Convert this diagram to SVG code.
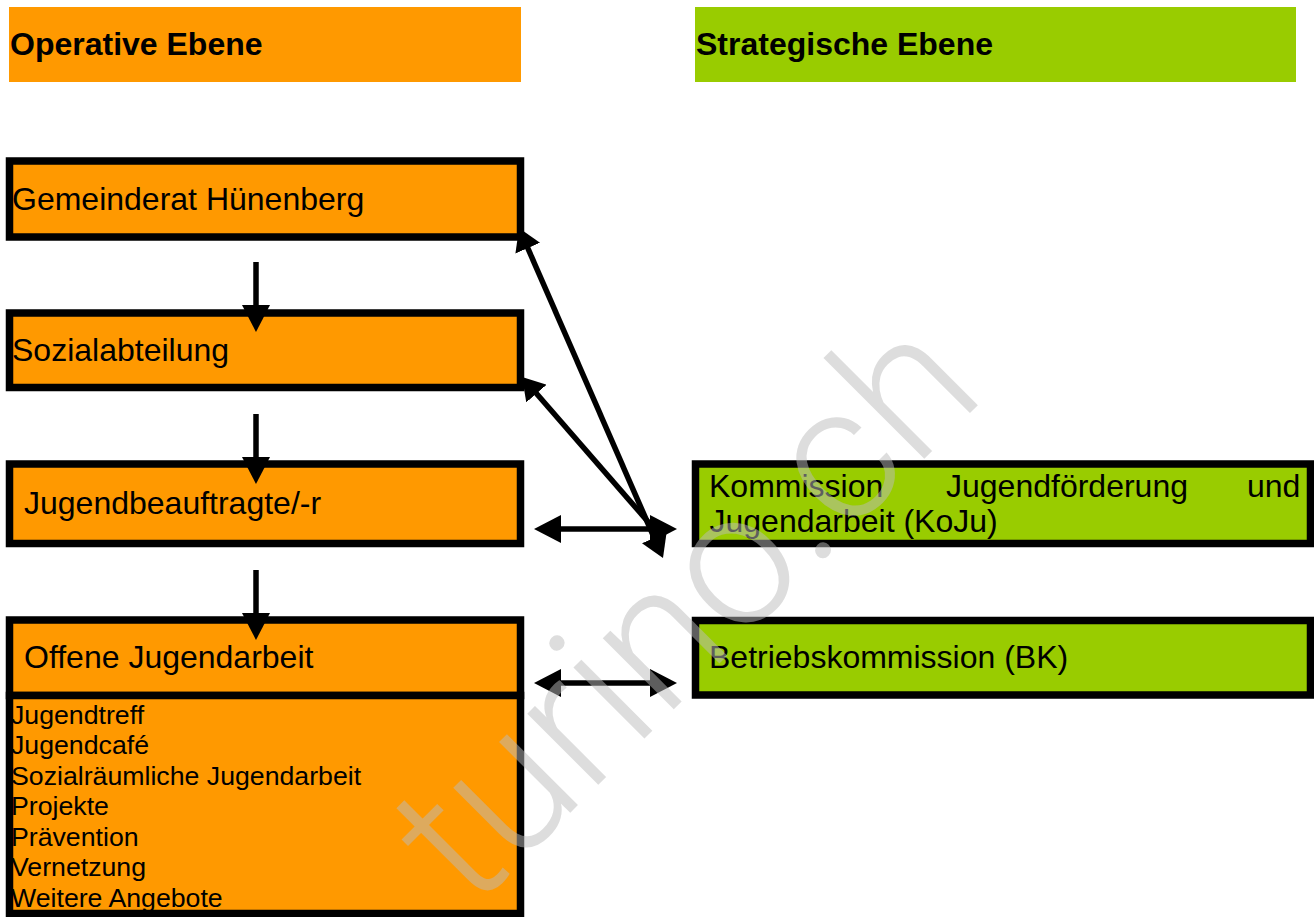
<svg xmlns="http://www.w3.org/2000/svg" width="1314" height="917" viewBox="0 0 1314 917">
<style>
.or{fill:#FF9900}
.gr{fill:#99CC00}
.bd{fill:none;stroke:#000;stroke-width:7.5}
.t{font-family:"Liberation Sans",Arial,sans-serif;font-size:32px;fill:#000}
.h{font-family:"Liberation Sans",Arial,sans-serif;font-size:32px;font-weight:bold;fill:#000}
.s{font-family:"Liberation Sans",Arial,sans-serif;font-size:26.7px;fill:#000}
.ln{stroke:#000;stroke-width:5.5;fill:none}
.wm{font-family:Roboto,"Liberation Sans",sans-serif;font-weight:300;font-size:190px;fill:#bcbcbc;fill-opacity:0.5}
</style>
<defs>
<marker id="ah" viewBox="0 0 27 28" markerWidth="27" markerHeight="28" markerUnits="userSpaceOnUse" refX="4" refY="14" orient="auto-start-reverse">
<path d="M0,0 L27,14 L0,28 Z" fill="#000"/>
</marker>
<marker id="ad" viewBox="0 0 22 27" markerWidth="22" markerHeight="27" markerUnits="userSpaceOnUse" refX="3" refY="13.5" orient="auto-start-reverse">
<path d="M0,0 L22,13.5 L0,27 Z" fill="#000"/>
</marker>
</defs>
<rect width="1314" height="917" fill="#fff"/>
<g id="header-operativ">
<rect class="or" x="9" y="7" width="512" height="75"/>
<text class="h" x="10" y="55">Operative Ebene</text>
</g>
<g id="header-strategisch">
<rect class="gr" x="695" y="7" width="601" height="75"/>
<text class="h" x="696" y="55">Strategische Ebene</text>
</g>
<g id="gemeinderat">
<rect class="or" x="9.5" y="161" width="511" height="76"/>
<text class="t" x="12" y="210">Gemeinderat Hünenberg</text>
<rect class="bd" x="9.5" y="161" width="511" height="76"/>
</g>
<g id="sozialabteilung">
<rect class="or" x="9.5" y="313" width="511" height="74.5"/>
<text class="t" x="12" y="361">Sozialabteilung</text>
<rect class="bd" x="9.5" y="313" width="511" height="74.5"/>
</g>
<g id="jugendbeauftragte">
<rect class="or" x="9.5" y="464" width="511" height="79.5"/>
<text class="t" x="24" y="514">Jugendbeauftragte/-r</text>
<rect class="bd" x="9.5" y="464" width="511" height="79.5"/>
</g>
<g id="offene-jugendarbeit">
<rect class="or" x="9.5" y="620" width="511" height="75.5"/>
<text class="t" x="24" y="668">Offene Jugendarbeit</text>
<rect class="bd" x="9.5" y="620" width="511" height="75.5"/>
</g>
<g id="angebote">
<rect class="or" x="9.5" y="695.5" width="511" height="218"/>
<text class="s" x="11"><tspan x="11" y="723.5">Jugendtreff</tspan><tspan x="11" y="754">Jugendcafé</tspan><tspan x="11" y="784.5">Sozialräumliche Jugendarbeit</tspan><tspan x="11" y="815">Projekte</tspan><tspan x="11" y="845.5">Prävention</tspan><tspan x="11" y="876">Vernetzung</tspan><tspan x="11" y="906.5">Weitere Angebote</tspan></text>
<rect class="bd" x="9.5" y="695.5" width="511" height="218"/>
</g>
<g id="koju">
<rect class="gr" x="695.5" y="464" width="615" height="79.5"/>
<text class="t" y="497"><tspan x="709">Kommission</tspan><tspan x="946">Jugendförderung</tspan><tspan x="1247">und</tspan></text>
<text class="t" x="709.5" y="532">Jugendarbeit (KoJu)</text>
<rect class="bd" x="695.5" y="464" width="615" height="79.5"/>
</g>
<g id="betriebskommission">
<rect class="gr" x="695.5" y="620.5" width="615" height="74.5"/>
<text class="t" x="709" y="668">Betriebskommission (BK)</text>
<rect class="bd" x="695.5" y="620.5" width="615" height="74.5"/>
</g>
<g id="connectors">
<line class="ln" x1="256" y1="262" x2="256" y2="309" marker-end="url(#ah)"/>
<line class="ln" x1="256" y1="414" x2="256" y2="461" marker-end="url(#ah)"/>
<line class="ln" x1="256" y1="570" x2="256" y2="617" marker-end="url(#ah)"/>
<line class="ln" x1="557" y1="529" x2="654" y2="529" marker-start="url(#ah)" marker-end="url(#ah)"/>
<line class="ln" x1="557" y1="683" x2="654" y2="683" marker-start="url(#ah)" marker-end="url(#ah)"/>
<line class="ln" x1="526.6" y1="245.4" x2="655.4" y2="540.6" marker-start="url(#ad)" marker-end="url(#ad)"/>
<line class="ln" x1="534.5" y1="391.3" x2="650" y2="524" marker-start="url(#ad)"/>
</g>
<text class="wm" x="471" y="912" transform="rotate(-45 471 912)">turino.ch</text>
</svg>
